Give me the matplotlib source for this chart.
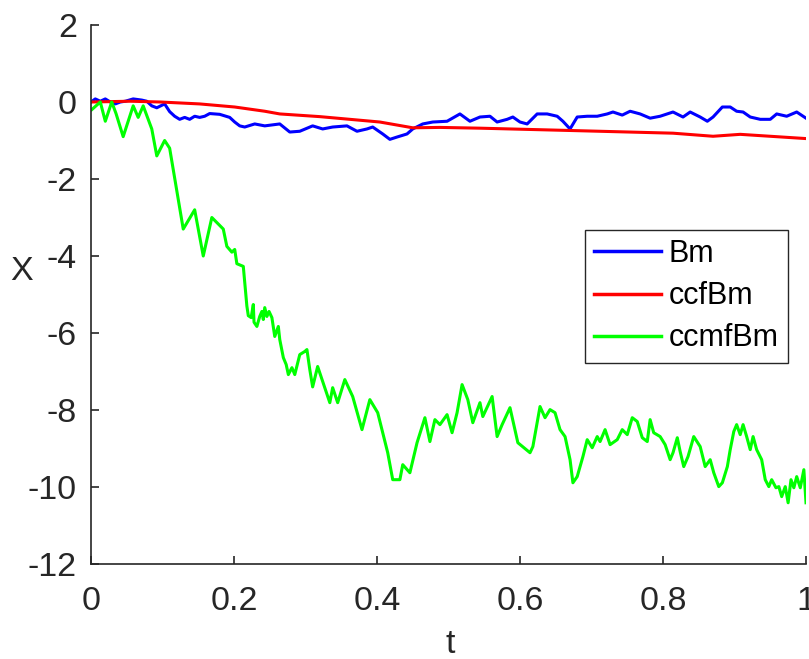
import matplotlib
matplotlib.use("Agg")
import matplotlib.pyplot as plt

plt.rcParams['font.family'] = ['Liberation Sans', 'DejaVu Sans']

# ---- data ----
t_bm = [0.0, 0.006, 0.013, 0.020, 0.027, 0.034, 0.041, 0.048, 0.059, 0.071, 0.078, 0.085,
        0.092, 0.103, 0.110, 0.117, 0.124, 0.131, 0.138, 0.145, 0.152, 0.159, 0.166, 0.180,
        0.194, 0.201, 0.208, 0.215, 0.229, 0.243, 0.264, 0.278, 0.292, 0.310, 0.324, 0.338,
        0.358, 0.372, 0.386, 0.394, 0.408, 0.418, 0.428, 0.442, 0.450, 0.464, 0.478, 0.498,
        0.516, 0.530, 0.544, 0.558, 0.568, 0.582, 0.590, 0.600, 0.610, 0.624, 0.638, 0.652,
        0.660, 0.670, 0.680, 0.694, 0.708, 0.722, 0.730, 0.743, 0.754, 0.768, 0.782, 0.796,
        0.814, 0.828, 0.838, 0.852, 0.862, 0.870, 0.883, 0.894, 0.903, 0.912, 0.922, 0.936,
        0.950, 0.959, 0.973, 0.987, 1.0]
x_bm = [0.0, 0.08, 0.02, 0.08, 0.0, -0.05, 0.0, 0.02, 0.08, 0.05, 0.02, -0.1,
        -0.15, -0.05, -0.25, -0.37, -0.45, -0.4, -0.45, -0.37, -0.4, -0.37, -0.3, -0.32,
        -0.4, -0.52, -0.62, -0.65, -0.57, -0.62, -0.57, -0.78, -0.76, -0.62, -0.7, -0.65,
        -0.62, -0.76, -0.7, -0.65, -0.83, -0.97, -0.91, -0.83, -0.7, -0.57, -0.52, -0.5,
        -0.31, -0.5, -0.39, -0.37, -0.52, -0.45, -0.39, -0.52, -0.57, -0.31, -0.31, -0.37,
        -0.5, -0.7, -0.39, -0.37, -0.37, -0.31, -0.26, -0.34, -0.24, -0.31, -0.42, -0.37,
        -0.26, -0.39, -0.26, -0.39, -0.5, -0.39, -0.13, -0.13, -0.24, -0.26, -0.39, -0.45,
        -0.45, -0.31, -0.37, -0.26, -0.42]

t_ccf = [0.0, 0.055, 0.097, 0.152, 0.201, 0.243, 0.264, 0.320, 0.404, 0.450, 0.488,
         0.544, 0.670, 0.814, 0.870, 0.908, 1.0]
x_ccf = [0.0, 0.02, 0.0, -0.05, -0.13, -0.24, -0.31, -0.38, -0.52, -0.67, -0.66,
         -0.68, -0.74, -0.81, -0.89, -0.84, -0.95]

t_ccmf = [0.001, 0.013, 0.020, 0.029, 0.035, 0.045, 0.059, 0.066, 0.073, 0.085, 0.092, 0.103,
          0.110, 0.120, 0.129, 0.145, 0.157, 0.169, 0.185, 0.190, 0.197, 0.201, 0.204, 0.213,
          0.215, 0.218, 0.220, 0.224, 0.227, 0.228, 0.232, 0.236, 0.239, 0.241, 0.243, 0.246,
          0.249, 0.253, 0.257, 0.262, 0.264, 0.269, 0.273, 0.276, 0.281, 0.285, 0.292, 0.299,
          0.302, 0.306, 0.310, 0.317, 0.324, 0.334, 0.338, 0.345, 0.355, 0.366, 0.379, 0.390,
          0.401, 0.408, 0.415, 0.422, 0.432, 0.436, 0.446, 0.456, 0.467, 0.474, 0.481, 0.488,
          0.498, 0.505, 0.512, 0.519, 0.527, 0.534, 0.544, 0.548, 0.561, 0.568, 0.575, 0.586,
          0.597, 0.614, 0.618, 0.628, 0.635, 0.642, 0.649, 0.656, 0.663, 0.670, 0.674, 0.680,
          0.688, 0.694, 0.701, 0.708, 0.712, 0.719, 0.726, 0.736, 0.743, 0.750, 0.757, 0.764,
          0.771, 0.778, 0.782, 0.787, 0.796, 0.803, 0.810, 0.814, 0.820, 0.824, 0.829, 0.835,
          0.843, 0.852, 0.859, 0.866, 0.871, 0.878, 0.883, 0.890, 0.894, 0.899, 0.903, 0.908,
          0.912, 0.917, 0.922, 0.926, 0.931, 0.938, 0.943, 0.948, 0.952, 0.958, 0.962, 0.966,
          0.971, 0.975, 0.979, 0.983, 0.987, 0.992, 0.997, 1.0]
x_ccmf = [-0.2, 0.0, -0.5, 0.0, -0.3, -0.9, -0.1, -0.4, -0.1, -0.7, -1.4, -1.0,
          -1.2, -2.3, -3.3, -2.8, -4.0, -3.0, -3.3, -3.75, -3.9, -3.83, -4.2, -4.27,
          -4.69, -5.3, -5.55, -5.6, -5.26, -5.72, -5.83, -5.57, -5.44, -5.65, -5.34, -5.57,
          -5.44, -5.6, -6.09, -5.83, -6.17, -6.64, -6.82, -7.08, -6.9, -7.08, -6.56, -6.48,
          -6.43, -6.95, -7.4, -6.87, -7.26, -7.81, -7.42, -7.81, -7.21, -7.65, -8.51, -7.73,
          -8.07, -8.59, -9.11, -9.81, -9.81, -9.42, -9.63, -8.85, -8.2, -8.82, -8.25, -8.38,
          -8.12, -8.59, -8.07, -7.34, -7.73, -8.33, -7.81, -8.17, -7.65, -8.69, -8.38, -7.94,
          -8.85, -9.11, -8.95, -7.91, -8.2, -7.99, -8.07, -8.51, -8.69, -9.29, -9.89, -9.73,
          -9.21, -8.77, -8.98, -8.69, -8.82, -8.51, -8.9, -8.77, -8.51, -8.64, -8.2, -8.3,
          -8.72, -8.82, -8.25, -8.59, -8.69, -8.9, -9.29, -9.11, -8.72, -9.08, -9.47, -9.21,
          -8.69, -8.95, -9.47, -9.29, -9.63, -9.99, -9.89, -9.47, -9.03, -8.56, -8.38, -8.64,
          -8.38, -8.69, -9.03, -8.69, -9.03, -9.29, -9.81, -9.99, -9.81, -10.02, -9.99, -10.25,
          -9.99, -10.41, -9.81, -10.02, -9.73, -10.02, -9.55, -10.41]

series_labels = ['Bm', 'ccfBm', 'ccmfBm']
x_ticks = [0, 0.2, 0.4, 0.6, 0.8, 1]
x_ticklabels = ['0', '0.2', '0.4', '0.6', '0.8', '1']
y_ticks = [2, 0, -2, -4, -6, -8, -10, -12]

# ---- figure ----
W, H = 809, 659
fig = plt.figure(figsize=(W / 100, H / 100), dpi=100)
ax = fig.add_axes([91 / W, (H - 564) / H, (806 - 91) / W, (564 - 25) / H])

lw = 2.2
ax.plot(t_bm, x_bm, color='#0000ff', lw=lw, label=series_labels[0])
ax.plot(t_ccf, x_ccf, color='#ff0000', lw=lw, label=series_labels[1])
ax.plot(t_ccmf, x_ccmf, color='#00ff00', lw=lw, label=series_labels[2])

ax.set_xlim(0, 1)
ax.set_ylim(-12, 2)
ax.set_xticks(x_ticks)
ax.set_xticklabels(x_ticklabels)
ax.set_yticks(y_ticks)
ax.set_yticklabels([str(v) for v in y_ticks])

for s in ['top', 'right']:
    ax.spines[s].set_visible(False)
for s in ['left', 'bottom']:
    ax.spines[s].set_color('#262626')
    ax.spines[s].set_linewidth(1.2)

ax.tick_params(direction='in', length=6, width=1.2, color='#262626',
               labelsize=24.5, labelcolor='#262626')
ax.tick_params(axis='x', pad=16)
ax.tick_params(axis='y', pad=10)

ax.set_xlabel('t', fontsize=24.5, color='#262626', va='center', ha='center')
ax.xaxis.set_label_coords(0.502, -0.149)
ax.set_ylabel('X', fontsize=24.5, color='#262626', rotation=0, va='center', ha='center')
ax.yaxis.set_label_coords(-0.0965, 0.542)

leg = ax.legend(loc='upper right', bbox_to_anchor=(0.975, 0.62), borderaxespad=0,
                fontsize=22, handlelength=2.2, handletextpad=0.25, labelspacing=0.4,
                borderpad=0.3, fancybox=False, framealpha=1, edgecolor='#262626')
leg.get_frame().set_linewidth(1.0)
for line in leg.get_lines():
    line.set_linewidth(2.5)

fig.savefig('out.png', dpi=100)
